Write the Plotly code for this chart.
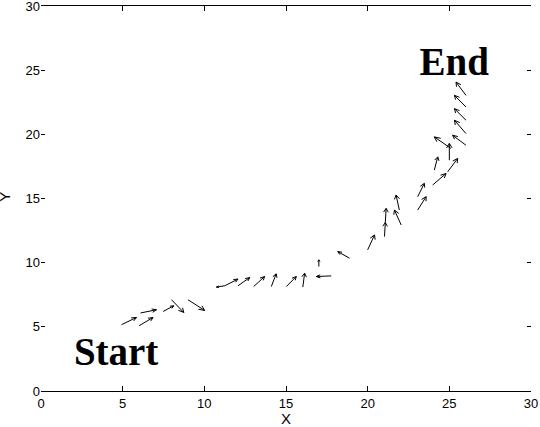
import plotly.figure_factory as ff
import plotly.graph_objects as go

# arrow tails (data units)
x_tail = [4.93, 6.01, 6.09, 7.48, 7.99, 9.00, 11.25, 11.25, 12.06, 13.02, 14.10,
          15.02, 16.03, 17.77, 17.01, 18.89, 20.00, 21.03, 21.08, 22.05, 21.94,
          23.06, 23.06, 23.98, 24.90, 24.08, 25.00, 25.10, 26.02, 26.02, 26.02,
          26.02, 26.02]
y_tail = [5.17, 5.09, 6.08, 6.20, 7.11, 7.11, 8.20, 8.20, 8.20, 8.14, 8.14,
          8.14, 8.10, 8.97, 9.70, 10.35, 11.00, 12.03, 13.13, 12.94, 14.10,
          14.10, 15.14, 16.05, 17.08, 17.21, 17.99, 18.90, 19.15, 20.06, 21.10,
          22.13, 23.04]
# arrow components
u_comp = [0.92, 0.85, 0.98, 0.65, 0.75, 1.02, -0.51, 0.81, 0.72, 0.67, 0.30,
          0.61, 0.11, -0.92, 0.00, -0.72, 0.42, 0.05, 0.05, -0.41, -0.20,
          0.52, 0.41, 0.82, 0.61, 0.21, 0.00, -1.02, -0.82, -0.71, -0.71,
          -0.71, -0.61]
v_comp = [0.56, 0.64, 0.25, 0.44, -0.99, -0.83, -0.10, 0.52, 0.64, 0.78, 0.99,
          0.78, 1.08, -0.05, 0.52, 0.51, 1.16, 1.10, 1.10, 1.16, 1.17,
          1.04, 1.04, 0.90, 1.04, 1.03, 1.30, 0.90, 0.78, 1.04, 0.90,
          0.91, 1.03]

tick_vals = [0, 5, 10, 15, 20, 25, 30]
tick_text = ["0", "5", "10", "15", "20", "25", "30"]

labels = ["<b>Start</b>", "<b>End</b>"]
label_x = [4.6, 25.3]
label_y = [2.8, 25.4]

fig = ff.create_quiver(x_tail, y_tail, u_comp, v_comp, scale=1.0,
                       arrow_scale=0.3, angle=0.45,
                       line=dict(color="black", width=1))

fig.add_trace(go.Scatter(x=label_x, y=label_y, mode="text", text=labels,
                         textfont=dict(family="Liberation Serif", size=39,
                                       color="black"),
                         textposition="middle center", hoverinfo="skip",
                         cliponaxis=False))

fig.update_layout(
    width=540, height=427,
    margin=dict(l=41, r=9, t=6, b=36, autoexpand=False),
    paper_bgcolor="white", plot_bgcolor="white",
    showlegend=False,
    font=dict(family="Liberation Sans", size=14, color="black"),
)
fig.update_xaxes(range=[0, 30], tickvals=tick_vals, ticktext=tick_text,
                 showgrid=False, zeroline=False, showline=True,
                 linecolor="black", linewidth=1, mirror="ticks",
                 ticks="inside", ticklen=5, tickcolor="black",
                 automargin=False, tickfont=dict(size=13),
                 ticklabeloverflow="allow")
fig.update_yaxes(range=[0, 30], tickvals=tick_vals, ticktext=tick_text,
                 showgrid=False, zeroline=False, showline=False,
                 mirror="ticks", ticks="inside", ticklen=4, tickcolor="black",
                 automargin=False, tickfont=dict(size=13),
                 ticklabeloverflow="allow")

fig.add_annotation(text="X", xref="x", yref="paper", x=15, y=-0.071,
                   showarrow=False, xanchor="center", yanchor="middle",
                   font=dict(size=15))
fig.add_annotation(text="Y", xref="paper", yref="paper", x=-0.074, y=0.504,
                   textangle=-90, showarrow=False, xanchor="center",
                   yanchor="middle", font=dict(size=15))

fig.write_html("out.html", config={"displayModeBar": False},
               post_script="document.body.style.margin='0';"
                           "document.body.style.overflow='hidden';")
